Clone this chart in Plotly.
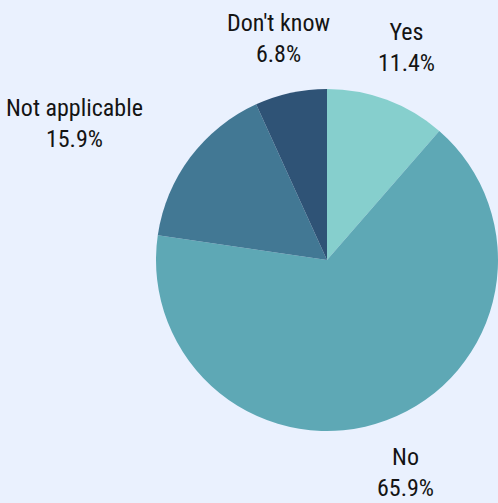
import math
import plotly.graph_objects as go

# Survey responses (share of respondents, %)
labels = ["Yes", "No", "Not applicable", "Don't know"]
values = [11.4, 65.9, 15.9, 6.8]
colors = ["#86CFCD", "#5EA8B5", "#427894", "#2F5376"]

W, H = 498, 503
BG = "#EAF1FE"
FONT = "Roboto Condensed, Roboto, sans-serif"

# Pie placement in pixels (from top-left of the page)
cx, cy, r = 327, 260, 171
dom_x = [(cx - r) / W, (cx + r) / W]
dom_y = [1 - (cy + r) / H, 1 - (cy - r) / H]

fig = go.Figure(
    go.Pie(
        labels=labels,
        values=values,
        marker=dict(colors=colors, line=dict(width=0)),
        sort=False,
        direction="clockwise",
        rotation=0,
        textinfo="none",
        hoverinfo="label+percent",
        showlegend=False,
        domain=dict(x=dom_x, y=dom_y),
    )
)

# Outside labels: name + percentage placed at each slice's mid-angle
total = sum(values)
label_r = 227
annotations = []
cum = 0.0
for name, v in zip(labels, values):
    mid = (cum + v / 2) / total * 2 * math.pi
    cum += v
    s, c = math.sin(mid), math.cos(mid)
    px = cx + label_r * s
    py = cy - label_r * c
    if s < -0.6:
        xanchor = "right"
    elif s > 0.6:
        xanchor = "left"
    else:
        xanchor = "center"
    pct = v / total * 100
    annotations.append(
        dict(
            x=px / W,
            y=1 - py / H,
            xref="paper",
            yref="paper",
            text=f"{name}<br>{pct:.1f}%",
            showarrow=False,
            xanchor=xanchor,
            yanchor="middle",
            align="center",
            font=dict(family=FONT, size=24, color="#141414"),
        )
    )

fig.update_layout(
    width=W,
    height=H,
    margin=dict(l=0, r=0, t=0, b=0),
    paper_bgcolor=BG,
    plot_bgcolor=BG,
    annotations=annotations,
)

fig.write_html("out.html")
